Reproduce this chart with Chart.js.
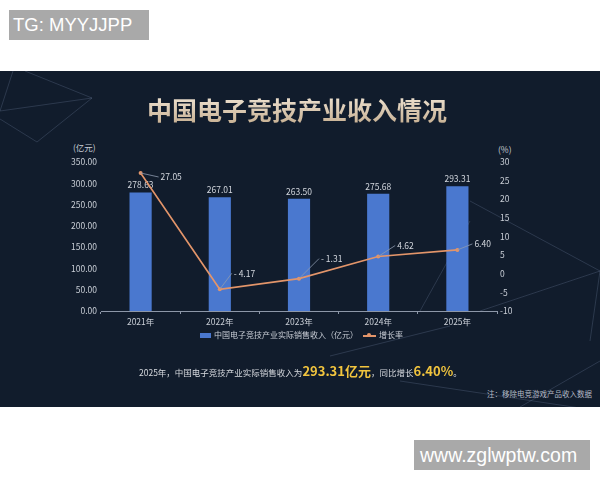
<!DOCTYPE html>
<html>
<head>
<meta charset="utf-8">
<script src="https://cdn.jsdelivr.net/npm/chart.js@4/dist/chart.umd.min.js"></script>
<style>
  body { margin: 0; background: #fff; width: 600px; height: 480px; position: relative; overflow: hidden; font-family: "Noto Sans CJK SC", "Noto Sans", sans-serif; }
  #panel { position: absolute; left: 0; top: 71px; width: 600px; height: 336px; background: #111c2c; overflow: hidden; }
  #panel svg { position: absolute; left: 0; top: 0; }
  #chart { position: absolute; left: 0; top: 0; }
  .abs { position: absolute; white-space: nowrap; }
  #title { left: 0; width: 594px; text-align: center; top: 23px; font-size: 25px; font-weight: bold; line-height: 30px;
    background: linear-gradient(#f1e6d6, #c7b093); -webkit-background-clip: text; color: transparent; }
  .axt { font-size: 8.5px; color: #c9ced6; }
  #legend { top: 258px; left: 200px; font-size: 8px; color: #c9ced6; line-height: 12px; }
  #legend span.box { display: inline-block; width: 11px; height: 5px; background: #4a78cf; vertical-align: middle; margin-right: 3px; }
  #legend span.ln { display: inline-block; width: 13px; height: 2px; background: #e3956a; vertical-align: middle; margin: 0 3px 0 5px; position: relative; }
  #legend span.ln::after { content: ""; position: absolute; left: 4px; top: -2px; width: 4px; height: 4px; border-radius: 50%; background: #e3956a; }
  #summary { top: 291px; left: 139px; font-size: 8.5px; color: #d6d9de; line-height: 18px; }
  #summary b { color: #f1c43e; font-size: 13px; }
  #note { top: 317px; left: 487px; font-size: 7.5px; color: #b4bac5; }
  .wm { position: absolute; background: #a9a9a9; color: #fff; font-family: "Liberation Sans", Arial, sans-serif; }
</style>
</head>
<body>
<div class="wm" style="left:9px;top:10px;width:140px;height:30px;font-size:18.5px;line-height:30px;padding-left:4px;box-sizing:border-box;">TG: MYYJJPP</div>
<div id="panel">
  <svg width="600" height="336">
    <g stroke="rgba(140,160,195,0.22)" stroke-width="1" fill="none">
      <polyline points="13,0 0,40"/>
      <polyline points="25,0 92,27 0,40"/>
      <polyline points="92,27 37,71 0,48"/>
      <polyline points="470,130 600,200 590,270"/>
      <polyline points="480,240 600,200"/>
      <polyline points="420,240 470,150"/>
      <polyline points="330,285 450,255"/>
      <polyline points="400,310 600,340"/>
      <polyline points="520,336 600,290"/>
    </g>
  </svg>
  <div id="title" class="abs">中国电子竞技产业收入情况</div>
  <div class="abs axt" style="left:73px;top:70px;">(亿元)</div>
  <div class="abs axt" style="left:498px;top:72px;">(%)</div>
  <canvas id="chart" width="600" height="260"></canvas>
  <div id="legend" class="abs"><span class="box"></span>中国电子竞技产业实际销售收入（亿元）<span class="ln"></span>增长率</div>
  <div id="summary" class="abs">2025年，中国电子竞技产业实际销售收入为<b>293.31亿元</b>，同比增长<b>6.40%</b>。</div>
  <div id="note" class="abs">注：移除电竞游戏产品收入数据</div>
</div>
<div class="wm" style="left:414px;top:440px;width:176px;height:30px;font-size:19.5px;line-height:30px;padding-left:6px;box-sizing:border-box;">www.zglwptw.com</div>

<script>
const years = ["2021年", "2022年", "2023年", "2024年", "2025年"];
const revenue = [278.63, 267.01, 263.50, 275.68, 293.31];
const growth = [27.05, -4.17, -1.31, 4.62, 6.40];

// leader line offsets for growth labels (px)
const leaderOffsets = [[18, 4], [12, -16], [20, -20], [17, -11], [15, -6]];

const tickFont = { family: '"Noto Sans CJK SC", sans-serif', size: 8.5 };
const tickColor = '#c9ced6';

function fmtGrowth(v) {
    return v < 0 ? '- ' + Math.abs(v).toFixed(2) : v.toFixed(2);
}

const labelPlugin = {
    id: 'valueLabels',
    afterDatasetDraw(chart, args) {
        const ctx = chart.ctx;
        ctx.save();
        ctx.font = '8.5px "Noto Sans CJK SC", sans-serif';
        ctx.fillStyle = '#d3d7de';
        if (args.index === 0) {
            args.meta.data.forEach((bar, i) => {
                ctx.textAlign = 'center';
                ctx.textBaseline = 'bottom';
                ctx.fillText(revenue[i].toFixed(2), bar.x, bar.y - 3);
            });
        } else {
            args.meta.data.forEach((pt, i) => {
                const [dx, dy] = leaderOffsets[i];
                ctx.strokeStyle = '#8e9bb0';
                ctx.lineWidth = 0.8;
                ctx.beginPath();
                ctx.moveTo(pt.x, pt.y);
                ctx.lineTo(pt.x + dx, pt.y + dy);
                ctx.stroke();
                ctx.textAlign = 'left';
                ctx.textBaseline = 'middle';
                ctx.fillText(fmtGrowth(growth[i]), pt.x + dx + 2, pt.y + dy);
            });
        }
        ctx.restore();
    }
};

new Chart(document.getElementById('chart').getContext('2d'), {
    data: {
        labels: years,
        datasets: [{
            type: 'bar',
            label: '中国电子竞技产业实际销售收入（亿元）',
            data: revenue,
            backgroundColor: '#4a78cf',
            barPercentage: 0.56,
            categoryPercentage: 0.5,
            yAxisID: 'y',
            order: 2
        }, {
            type: 'line',
            label: '增长率',
            data: growth,
            borderColor: '#e3956a',
            backgroundColor: '#e3956a',
            borderWidth: 1.6,
            pointRadius: 2,
            pointBorderWidth: 0,
            tension: 0,
            yAxisID: 'y1',
            order: 1
        }]
    },
    options: {
        responsive: false,
        animation: false,
        layout: { padding: { top: 91, left: 0, right: 0, bottom: 0 } },
        plugins: { legend: { display: false }, tooltip: { enabled: false } },
        scales: {
            x: {
                afterFit: s => { s.height = 20; },
                grid: { drawOnChartArea: false, drawTicks: true, tickLength: 3, color: '#8d97a8', offset: true },
                border: { display: true, color: '#8d97a8', width: 1 },
                ticks: { color: tickColor, font: tickFont, padding: 3 }
            },
            y: {
                position: 'left',
                min: 0, max: 350,
                afterFit: s => { s.width = 101; },
                grid: { display: false, drawTicks: false },
                border: { display: false },
                ticks: { stepSize: 50, color: tickColor, font: tickFont, padding: 4, callback: v => v.toFixed(2) }
            },
            y1: {
                position: 'right',
                min: -10, max: 30,
                afterFit: s => { s.width = 103; },
                grid: { display: false, drawTicks: false },
                border: { display: false },
                ticks: { stepSize: 5, color: tickColor, font: tickFont, padding: 3 }
            }
        }
    },
    plugins: [labelPlugin]
});
</script>
</body>
</html>
